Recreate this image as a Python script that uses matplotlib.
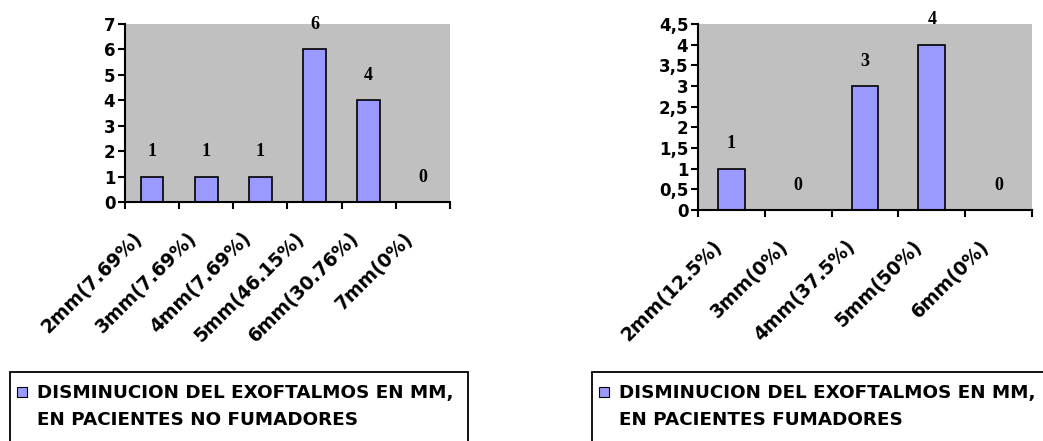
import matplotlib.pyplot as plt
from matplotlib.patches import Rectangle
from matplotlib.ticker import FuncFormatter, MultipleLocator
import numpy as np

# no fumadores
cats_nf = ['2mm(7.69%)', '3mm(7.69%)', '4mm(7.69%)', '5mm(46.15%)', '6mm(30.76%)', '7mm(0%)']
vals_nf = [1, 1, 1, 6, 4, 0]

# fumadores
cats_f = ['2mm(12.5%)', '3mm(0%)', '4mm(37.5%)', '5mm(50%)', '6mm(0%)']
vals_f = [1, 0, 3, 4, 0]

legend_line1 = 'DISMINUCION DEL EXOFTALMOS EN MM,'
legend_nf = 'EN PACIENTES NO FUMADORES'
legend_f = 'EN PACIENTES FUMADORES'

BAR = '#9999FF'
BG = '#C0C0C0'

plt.rcParams['font.family'] = ['DejaVu Sans']
plt.rcParams['font.weight'] = 'bold'

W, H = 1043, 441
fig = plt.figure(figsize=(W / 100, H / 100), dpi=100)


def px_axes(x0, y0, x1, y1):
    return fig.add_axes([x0 / W, 1 - y1 / H, (x1 - x0) / W, (y1 - y0) / H])


def draw(ax, cats, vals, ymax, step, width, comma):
    n = len(cats)
    x = np.arange(n)
    ax.bar(x, vals, width=width, color=BAR, edgecolor='black', linewidth=1.2, zorder=2)
    for xi, v in zip(x, vals):
        ax.annotate(str(v), (xi, v), xytext=(0, 18), textcoords='offset points',
                    ha='center', va='center', fontsize=13, fontweight='bold',
                    family='Liberation Serif')
    ax.set_facecolor(BG)
    ax.set_xlim(-0.5, n - 0.5)
    ax.set_ylim(0, ymax)
    for s in ['top', 'right']:
        ax.spines[s].set_visible(False)
    ax.spines['left'].set_linewidth(1.5)
    ax.spines['bottom'].set_linewidth(1.5)
    ax.yaxis.set_major_locator(MultipleLocator(step))
    if comma:
        ax.yaxis.set_major_formatter(FuncFormatter(lambda v, p: f'{v:g}'.replace('.', ',')))
    ax.tick_params(axis='y', labelsize=12, length=5, width=1.5, pad=2)
    # ticks sit on the category boundaries
    ax.set_xticks(np.arange(n + 1) - 0.5)
    ax.set_xticklabels([])
    ax.tick_params(axis='x', length=5, width=1.5)
    # category names, slanted and ending a bit left of the centre
    for xi, c in zip(x, cats):
        ax.annotate(c, (xi, 0), xycoords=('data', 'axes fraction'),
                    xytext=(-14, -19), textcoords='offset points',
                    ha='right', va='top', rotation=45, rotation_mode='anchor',
                    fontsize=13.5, fontweight='bold', annotation_clip=False)


ax1 = px_axes(125, 24, 450, 202)
draw(ax1, cats_nf, vals_nf, 7, 1, 0.42, False)

ax2 = px_axes(698, 24, 1032, 210)
draw(ax2, cats_f, vals_f, 4.5, 0.5, 0.4, True)

# legend boxes
for x0, x1, txt in [(10, 468, legend_nf), (592, 1100, legend_f)]:
    fig.patches.append(Rectangle((x0 / W, -0.05), (x1 - x0) / W, (H - 372) / H + 0.05,
                                 transform=fig.transFigure, facecolor='white',
                                 edgecolor='black', linewidth=1.3))
    fig.patches.append(Rectangle(((x0 + 7) / W, 1 - 397 / H), 10 / W, 10 / H,
                                 transform=fig.transFigure, facecolor=BAR,
                                 edgecolor='black', linewidth=0.8))
    fig.text((x0 + 27) / W, 1 - 398 / H, legend_line1, ha='left', va='baseline',
             fontsize=13.2, fontweight='bold')
    fig.text((x0 + 27) / W, 1 - 425 / H, txt, ha='left', va='baseline',
             fontsize=13.2, fontweight='bold')

fig.savefig('out.png', dpi=100)
